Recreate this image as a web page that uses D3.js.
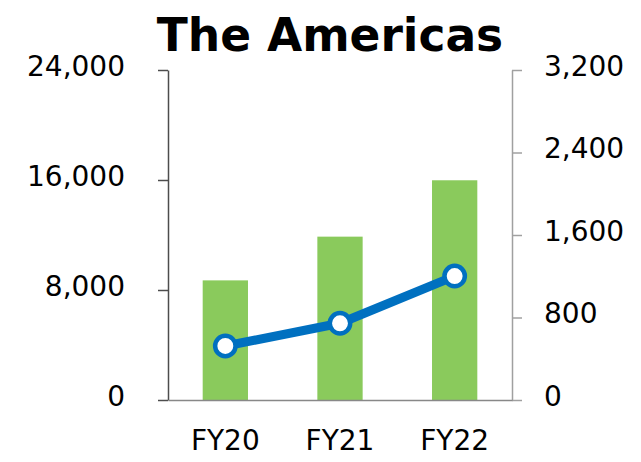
<!DOCTYPE html>
<html>
<head>
<meta charset="utf-8">
<script src="https://cdn.jsdelivr.net/npm/d3@7/dist/d3.min.js"></script>
<style>
  html, body { margin: 0; padding: 0; background: #fff; }
  svg { display: block; }
  text { font-family: "DejaVu Sans", Verdana, sans-serif; fill: #000; }
</style>
</head>
<body>
<svg id="chart" width="641" height="462"></svg>
<script>
// Fiscal years and their values
const categories = ["FY20", "FY21", "FY22"];
const barValues = [8700, 11880, 15980];     // left axis (bars)
const lineValues = [524, 744, 1202];        // right axis (line)
const leftTicks = [0, 8000, 16000, 24000];
const rightTicks = [0, 800, 1600, 2400, 3200];
const titleText = "The Americas";

const svg = d3.select("#chart");
const plot = { left: 168, right: 512, top: 70, bottom: 400 };

const x = d3.scaleBand()
  .domain(categories)
  .range([plot.left, plot.right])
  .paddingInner(0.605)
  .paddingOuter(0.3025);

const yLeft = d3.scaleLinear().domain([0, 24000]).range([plot.bottom, plot.top]);
const yRight = d3.scaleLinear().domain([0, 3200]).range([plot.bottom, plot.top]);

const fmt = d3.format(",");

// Title
svg.append("text")
  .attr("x", 330)
  .attr("y", 51)
  .attr("text-anchor", "middle")
  .style("font-size", "45.5px")
  .style("font-weight", "bold")
  .text(titleText);

// Bars
svg.append("g")
  .selectAll("rect")
  .data(categories)
  .join("rect")
  .attr("x", d => x(d))
  .attr("width", x.bandwidth())
  .attr("y", (d, i) => yLeft(barValues[i]))
  .attr("height", (d, i) => plot.bottom - yLeft(barValues[i]))
  .attr("fill", "#8aca5c");

// Left axis
const gL = svg.append("g")
  .attr("transform", `translate(${plot.left},0)`)
  .call(d3.axisLeft(yLeft).tickValues(leftTicks).tickFormat(fmt).tickSize(10).tickSizeOuter(0).tickPadding(33));
gL.select(".domain").attr("stroke", "#4d4d4d").attr("stroke-width", 1.5);
gL.selectAll(".tick line").attr("stroke", "#4d4d4d").attr("stroke-width", 1.5);
gL.selectAll(".tick text").style("font-size", "28px").attr("dy", "0.18em");

// Right axis
const gR = svg.append("g")
  .attr("transform", `translate(${plot.right},0)`)
  .call(d3.axisRight(yRight).tickValues(rightTicks).tickFormat(fmt).tickSize(10).tickSizeOuter(0).tickPadding(22));
gR.select(".domain").attr("stroke", "#a0a0a0").attr("stroke-width", 1.5);
gR.selectAll(".tick line").attr("stroke", "#a0a0a0").attr("stroke-width", 1.5);
gR.selectAll(".tick text").style("font-size", "28px").attr("dy", "0.18em");

// Category axis
const gB = svg.append("g")
  .attr("transform", `translate(0,${plot.bottom})`)
  .call(d3.axisBottom(x).tickSize(0).tickPadding(30));
gB.select(".domain").attr("stroke", "#888").attr("stroke-width", 1.5);
gB.selectAll(".tick text").style("font-size", "28px");

// Line series
const line = d3.line()
  .x((d, i) => x(categories[i]) + x.bandwidth() / 2)
  .y(d => yRight(d));

svg.append("path")
  .datum(lineValues)
  .attr("d", line)
  .attr("fill", "none")
  .attr("stroke", "#0070c0")
  .attr("stroke-width", 9)
  .attr("stroke-linejoin", "round");

svg.append("g")
  .selectAll("circle")
  .data(lineValues)
  .join("circle")
  .attr("cx", (d, i) => x(categories[i]) + x.bandwidth() / 2)
  .attr("cy", d => yRight(d))
  .attr("r", 10.2)
  .attr("fill", "#fff")
  .attr("stroke", "#0070c0")
  .attr("stroke-width", 4.5);
</script>
</body>
</html>
